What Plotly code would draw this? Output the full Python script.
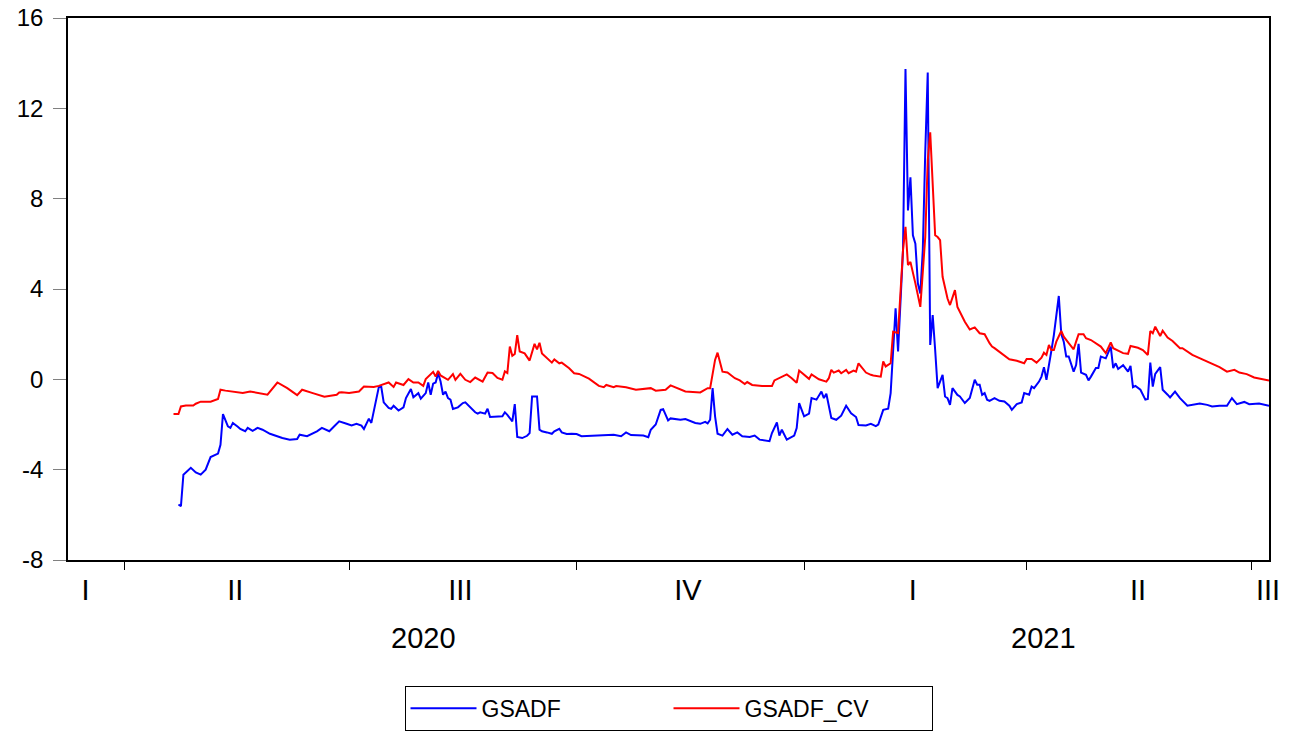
import pandas as pd
import plotly.graph_objects as go

# ---------------- data (daily, offsets in days from 2020-04-01) ----------------
start_date = "2020-04-01"

gsadf_day = [22, 23, 24, 27, 29, 31, 33, 35, 38, 39, 40, 41, 42, 43, 44, 46, 47, 49, 50, 52,
             54, 56, 59, 64, 67, 70, 71, 74, 78, 80, 83, 85, 87, 90, 92, 94, 96, 97, 99, 100,
             101, 103, 104, 105, 107, 108, 109, 111, 113, 114, 116, 117, 119, 120, 122, 123, 124, 125, 126, 127,
             128, 129, 130, 131, 132, 133, 135, 137, 138, 141, 142, 143, 144, 146, 147, 148, 151, 153, 154, 155,
             157, 158, 159, 161, 163, 164, 165, 167, 168, 169, 171, 173, 174, 176, 177, 179, 181, 183, 185, 188,
             192, 198, 201, 203, 205, 210, 212, 213, 215, 217, 218, 219, 220, 221, 225, 227, 229, 231, 233, 235,
             236, 237, 238, 239, 240, 242, 244, 246, 248, 250, 253, 255, 257, 261, 262, 264, 265, 266, 268, 271,
             272, 273, 275, 277, 278, 280, 282, 283, 284, 286, 288, 290, 292, 294, 296, 297, 300, 302, 304, 305,
             307, 309, 310, 311, 312, 313, 315, 316, 317, 318, 319, 320, 321, 322, 323, 324, 325, 326, 327, 328,
             329, 331, 332, 333, 334, 335, 337, 338, 340, 342, 344, 345, 346, 347, 348, 349, 350, 352, 354, 356,
             358, 359, 361, 363, 364, 366, 367, 368, 370, 371, 372, 373, 374, 375, 376, 378, 379, 380, 381, 382,
             384, 385, 386, 387, 389, 390, 391, 393, 394, 395, 397, 399, 400, 401, 402, 404, 406, 407, 408, 409,
             411, 412, 413, 414, 415, 416, 417, 419, 420, 422, 423, 425, 427, 430, 432, 435, 438, 440, 443, 446,
             448, 450, 453, 455, 459, 463]
gsadf = [-5.54, -5.62, -4.22, -3.92, -4.12, -4.22, -4.00, -3.44, -3.29, -2.90, -1.54, -1.80, -2.08, -2.15, -1.93, -2.10, -2.20, -2.30, -2.15, -2.28,
         -2.15, -2.23, -2.41, -2.60, -2.67, -2.64, -2.45, -2.52, -2.30, -2.15, -2.30, -2.08, -1.86, -1.97, -2.04, -1.97, -2.05, -2.20, -1.74, -1.93,
         -1.35, -0.35, -0.33, -1.02, -1.27, -1.31, -1.17, -1.38, -1.24, -0.83, -0.43, -0.79, -0.61, -0.86, -0.61, -0.14, -0.68, -0.19, -0.14, 0.27,
         -0.10, -0.68, -0.54, -0.83, -0.90, -1.31, -1.24, -1.05, -1.02, -1.35, -1.46, -1.52, -1.46, -1.52, -1.30, -1.67, -1.67, -1.64, -1.46, -1.57,
         -1.86, -1.10, -2.55, -2.60, -2.50, -2.38, -0.76, -0.76, -2.23, -2.30, -2.35, -2.41, -2.30, -2.19, -2.35, -2.42, -2.41, -2.42, -2.52, -2.50,
         -2.50, -2.45, -2.52, -2.35, -2.47, -2.49, -2.56, -2.23, -2.00, -1.35, -1.32, -1.54, -1.82, -1.73, -1.79, -1.76, -1.86, -1.93, -1.97, -1.88,
         -1.95, -1.79, -0.39, -1.64, -2.41, -2.49, -2.20, -2.45, -2.35, -2.52, -2.55, -2.49, -2.67, -2.74, -2.38, -1.91, -2.49, -2.23, -2.67, -2.49,
         -2.16, -1.05, -1.64, -1.52, -0.83, -0.90, -0.54, -0.83, -0.64, -1.71, -1.79, -1.61, -1.17, -1.50, -1.67, -2.02, -2.04, -1.97, -2.07, -2.00,
         -1.35, -1.30, -0.61, 1.30, 3.14, 1.23, 5.72, 13.74, 7.48, 8.95, 6.38, 6.01, 4.25, 3.80, 5.72, 10.10, 13.59, 1.52, 2.85, 1.30,
         -0.39, 0.20, -0.76, -0.83, -1.13, -0.39, -0.69, -0.76, -1.05, -0.83, -0.02, -0.24, -0.24, -0.69, -0.61, -0.90, -0.95, -0.83, -0.95, -0.98,
         -1.17, -1.35, -1.10, -1.02, -0.61, -0.68, -0.32, -0.39, -0.10, 0.12, 0.54, -0.02, 0.57, 1.27, 1.96, 3.69, 2.00, 1.67, 1.01, 1.01,
         0.34, 0.63, 1.57, 0.30, 0.20, -0.05, 0.12, 0.50, 0.50, 1.01, 0.93, 1.45, 0.50, 0.71, 0.46, 0.63, 0.34, 0.60, -0.35, -0.29,
         -0.46, -0.65, -0.90, -0.87, 0.74, -0.32, 0.24, 0.54, -0.46, -0.68, -0.80, -0.54, -0.83, -1.17, -1.13, -1.07, -1.13, -1.20, -1.17, -1.17,
         -0.83, -1.10, -1.00, -1.10, -1.07, -1.17]

cv_day = [20, 22, 23, 25, 28, 29, 31, 35, 38, 39, 41, 45, 48, 51, 54, 58, 62, 66, 70, 72,
          76, 81, 86, 87, 88, 91, 95, 97, 101, 103, 107, 109, 110, 113, 115, 117, 119, 121, 122, 125,
          126, 127, 128, 131, 133, 134, 136, 138, 140, 142, 145, 147, 149, 151, 153, 154, 155, 156, 157, 158,
          159, 160, 162, 164, 166, 167, 168, 169, 173, 174, 176, 177, 180, 182, 184, 188, 192, 194, 195, 198,
          199, 203, 207, 213, 215, 219, 221, 225, 227, 233, 236, 237, 239, 240, 241, 242, 244, 247, 249, 251,
          252, 254, 258, 262, 263, 265, 268, 270, 272, 273, 275, 277, 278, 281, 284, 285, 286, 287, 289, 290,
          292, 293, 295, 296, 297, 299, 300, 302, 303, 306, 307, 308, 310, 311, 313, 315, 316, 317, 318, 320,
          321, 322, 324, 325, 326, 327, 328, 329, 330, 331, 333, 334, 336, 337, 340, 342, 344, 346, 348, 350,
          351, 352, 354, 358, 361, 364, 365, 367, 369, 371, 372, 373, 374, 375, 376, 377, 379, 380, 382, 384,
          385, 386, 388, 389, 391, 392, 395, 397, 399, 400, 402, 404, 406, 407, 410, 412, 414, 415, 416, 417,
          419, 420, 422, 424, 427, 428, 432, 438, 443, 446, 449, 451, 454, 457, 461, 463]
gsadf_cv = [-1.54, -1.54, -1.20, -1.16, -1.16, -1.08, -0.99, -0.99, -0.87, -0.46, -0.50, -0.57, -0.60, -0.54, -0.60, -0.68, -0.14, -0.39, -0.70, -0.46,
            -0.60, -0.77, -0.68, -0.58, -0.57, -0.60, -0.54, -0.32, -0.34, -0.29, -0.14, -0.34, -0.14, -0.25, 0.01, -0.14, -0.14, -0.29, 0.01, 0.33,
            0.12, 0.37, 0.17, -0.02, 0.23, -0.02, 0.24, -0.02, -0.12, 0.08, -0.10, 0.30, 0.28, 0.06, -0.02, 0.35, 0.28, 1.45, 1.04, 1.12,
            1.96, 1.23, 1.15, 0.83, 1.57, 1.33, 1.62, 1.15, 0.74, 0.88, 0.71, 0.74, 0.49, 0.27, 0.24, 0.03, -0.29, -0.35, -0.25, -0.35,
            -0.30, -0.35, -0.46, -0.39, -0.50, -0.46, -0.27, -0.43, -0.54, -0.58, -0.39, -0.39, 0.86, 1.18, 0.79, 0.34, 0.30, 0.05, -0.05, -0.21,
            -0.12, -0.25, -0.30, -0.30, -0.05, 0.06, 0.22, 0.05, -0.15, 0.39, 0.20, 0.02, 0.22, 0.00, -0.10, 0.05, 0.42, 0.30, 0.39, 0.27,
            0.42, 0.27, 0.39, 0.34, 0.71, 0.46, 0.30, 0.20, 0.17, 0.12, 0.79, 0.57, 0.71, 2.11, 2.05, 5.72, 6.75, 5.06, 5.20, 4.25,
            3.73, 3.21, 6.30, 9.69, 10.94, 8.66, 6.38, 6.30, 6.16, 4.54, 3.58, 3.29, 3.95, 3.21, 2.55, 2.21, 2.30, 2.04, 2.00, 1.60,
            1.45, 1.38, 1.23, 0.89, 0.82, 0.71, 0.90, 0.90, 0.74, 0.96, 1.18, 1.08, 1.52, 1.30, 1.30, 1.67, 2.14, 1.89, 1.60, 1.33,
            1.67, 2.00, 2.00, 1.82, 1.74, 1.67, 1.45, 1.16, 1.63, 1.38, 1.27, 1.16, 1.13, 1.48, 1.40, 1.30, 1.08, 2.14, 2.04, 2.33,
            1.92, 2.15, 1.85, 1.70, 1.38, 1.38, 1.08, 0.79, 0.54, 0.34, 0.42, 0.30, 0.23, 0.08, 0.00, -0.05]

# axis labelling
x_range = ["2020-03-09 08:00", "2021-07-08"]
quarter_starts = ["2020-04-01", "2020-07-01", "2020-10-01", "2021-01-01", "2021-04-01", "2021-07-01"]
quarter_label_dates = ["2020-03-16 10:00", "2020-05-16", "2020-08-15", "2020-11-15", "2021-02-14", "2021-05-16", "2021-07-07 14:00"]
quarter_labels = ["I", "II", "III", "IV", "I", "II", "III"]
year_label_dates = ["2020-07-31", "2021-04-08"]
year_labels = ["2020", "2021"]
y_ticks = [-8, -4, 0, 4, 8, 12, 16]
y_ticktext = ["-8", "-4", "0", "4", "8", "12", "16"]

# ---------------- figure ----------------
base = pd.Timestamp(start_date)
x_gsadf = [base + pd.Timedelta(days=d) for d in gsadf_day]
x_cv = [base + pd.Timedelta(days=d) for d in cv_day]

FONT = "Liberation Sans, Arial, Helvetica, sans-serif"

fig = go.Figure()
fig.add_trace(go.Scatter(x=x_gsadf, y=gsadf, mode="lines", name="GSADF",
                         line=dict(color="#0000FF", width=2)))
fig.add_trace(go.Scatter(x=x_cv, y=gsadf_cv, mode="lines", name="GSADF_CV",
                         line=dict(color="#FF0000", width=2)))

for d, t in zip(year_label_dates, year_labels):
    fig.add_annotation(x=d, xref="x", y=-0.144, yref="paper", text=t, showarrow=False,
                       font=dict(family=FONT, size=29, color="black"), yanchor="middle")

fig.update_layout(
    width=1295, height=733,
    margin=dict(l=68, r=26, t=18, b=173, autoexpand=False),
    paper_bgcolor="white", plot_bgcolor="white",
    font=dict(family=FONT, color="black"),
    showlegend=True,
    legend=dict(orientation="h", x=0.5, xanchor="center", y=-0.232, yanchor="top",
                bordercolor="black", borderwidth=1, font=dict(size=23),
                itemwidth=66, entrywidth=182, bgcolor="white"),
    xaxis=dict(type="date", range=x_range, showgrid=False, zeroline=False, automargin=False,
               showline=True, linecolor="black", linewidth=1.5, mirror=True,
               tickmode="array", tickvals=quarter_label_dates, ticktext=quarter_labels,
               ticks="", tickfont=dict(size=29), ticklabelstandoff=3, ticklabeloverflow="allow",
               minor=dict(tickmode="array", tickvals=quarter_starts, ticks="outside",
                          ticklen=8, tickcolor="black", tickwidth=1, showgrid=False)),
    yaxis=dict(range=[-8, 16], showgrid=False, zeroline=False, automargin=False,
               showline=True, linecolor="black", linewidth=1.5, mirror=True,
               tickmode="array", tickvals=y_ticks, ticktext=y_ticktext,
               ticks="outside", ticklen=13, tickcolor="#808080", tickwidth=1,
               tickfont=dict(size=24), ticklabelstandoff=5, ticklabeloverflow="allow"),
)

# remove the page's default body margin so the figure sits at the window's corner
fig.write_html("out.html", config={"displayModeBar": False},
               post_script="document.body.style.margin='0';")
